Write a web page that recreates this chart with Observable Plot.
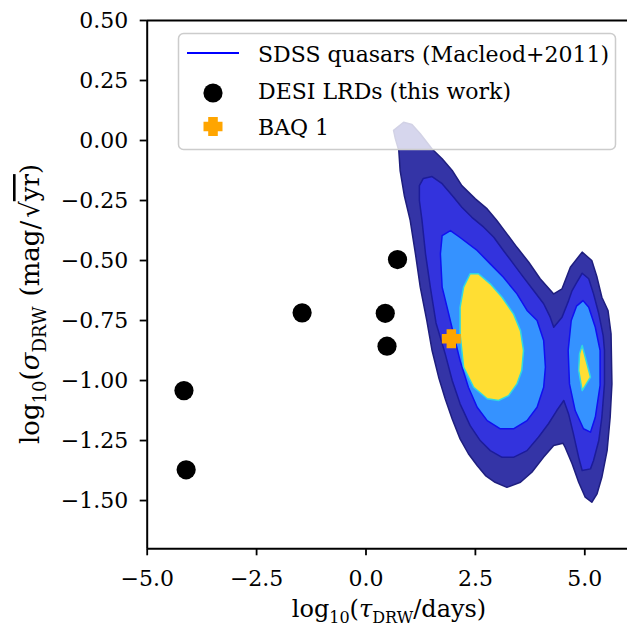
<!DOCTYPE html>
<html><head><meta charset="utf-8">
<script src="https://cdn.jsdelivr.net/npm/d3@7"></script>
<script src="https://cdn.jsdelivr.net/npm/@observablehq/plot@0.6"></script>
<style>
html,body{margin:0;padding:0;background:#fff;overflow:hidden}
</style>
</head><body><div id="chart"></div>
<script>
// DESI LRDs (this work)
const lrdTau   = [-4.16, -4.11, -1.46, 0.44, 0.48, 0.72];
const lrdSigma = [-1.042, -1.372, -0.718, -0.72, -0.857, -0.496];
// BAQ 1
const baqTau   = [1.95];
const baqSigma = [-0.826];
// tick labels
const xTicks = [-5, -2.5, 0, 2.5, 5];
const yTicks = [0.5, 0.25, 0, -0.25, -0.5, -0.75, -1, -1.25, -1.5];

// SDSS quasar density contours (Macleod+2011), outlines as [tau, sigma]
const level1 = [[0.63,0.042],[0.86,0.076],[1.05,0.067],[1.24,0.028],[1.51,-0.035],[1.74,-0.076],[1.97,-0.125],[2.19,-0.188],[2.50,-0.243],[2.77,-0.285],[2.99,-0.333],[3.22,-0.389],[3.45,-0.445],[3.72,-0.507],[3.98,-0.576],[4.29,-0.639],[4.48,-0.618],[4.67,-0.528],[4.94,-0.465],[5.16,-0.50],[5.28,-0.57],[5.39,-0.653],[5.53,-0.708],[5.60,-0.805],[5.62,-1.014],[5.58,-1.153],[5.51,-1.292],[5.39,-1.403],[5.28,-1.472],[5.16,-1.507],[5.01,-1.486],[4.86,-1.424],[4.71,-1.347],[4.55,-1.278],[4.50,-1.261],[4.29,-1.271],[4.06,-1.319],[3.79,-1.382],[3.53,-1.424],[3.22,-1.445],[2.95,-1.424],[2.73,-1.396],[2.54,-1.354],[2.34,-1.305],[2.15,-1.243],[1.97,-1.16],[1.81,-1.076],[1.66,-0.986],[1.51,-0.875],[1.39,-0.75],[1.24,-0.611],[1.13,-0.472],[1.01,-0.333],[0.875,-0.229],[0.78,-0.125],[0.75,-0.042],[0.67,0.008]];
const level2 = [[1.22,-0.188],[1.31,-0.158],[1.51,-0.15],[1.74,-0.18],[1.97,-0.229],[2.19,-0.278],[2.42,-0.32],[2.69,-0.361],[2.92,-0.403],[3.14,-0.458],[3.37,-0.514],[3.60,-0.57],[3.83,-0.625],[4.06,-0.68],[4.21,-0.736],[4.29,-0.778],[4.48,-0.736],[4.63,-0.667],[4.71,-0.625],[4.82,-0.59],[4.94,-0.553],[5.09,-0.576],[5.20,-0.639],[5.32,-0.722],[5.42,-0.8125],[5.45,-0.875],[5.45,-1.014],[5.39,-1.153],[5.32,-1.25],[5.20,-1.333],[5.13,-1.368],[4.94,-1.375],[4.86,-1.32],[4.74,-1.222],[4.63,-1.139],[4.52,-1.083],[4.36,-1.125],[4.17,-1.18],[3.94,-1.236],[3.68,-1.292],[3.37,-1.32],[3.11,-1.32],[2.84,-1.292],[2.61,-1.25],[2.38,-1.188],[2.15,-1.097],[1.97,-1.0],[1.81,-0.889],[1.60,-0.76],[1.47,-0.611],[1.36,-0.472],[1.28,-0.333],[1.22,-0.25]];
const level3Main = [[1.74,-0.396],[1.93,-0.375],[2.15,-0.404],[2.54,-0.458],[2.84,-0.514],[3.14,-0.57],[3.45,-0.639],[3.68,-0.708],[3.91,-0.75],[4.06,-0.833],[4.10,-0.944],[4.06,-1.028],[3.91,-1.111],[3.68,-1.167],[3.37,-1.201],[3.07,-1.201],[2.77,-1.167],[2.54,-1.111],[2.34,-1.028],[2.15,-0.917],[2.00,-0.806],[1.89,-0.722],[1.74,-0.611],[1.70,-0.472]];
const level3Right = [[4.96,-0.667],[5.09,-0.695],[5.24,-0.778],[5.35,-0.875],[5.35,-1.02],[5.24,-1.153],[5.13,-1.215],[4.97,-1.201],[4.78,-1.125],[4.65,-1.014],[4.62,-0.875],[4.69,-0.75],[4.81,-0.69]];
const level4Main = [[2.38,-0.555],[2.57,-0.555],[2.84,-0.597],[3.11,-0.653],[3.37,-0.722],[3.53,-0.792],[3.60,-0.875],[3.56,-0.958],[3.45,-1.014],[3.26,-1.063],[3.03,-1.083],[2.77,-1.076],[2.46,-1.028],[2.23,-0.944],[2.15,-0.806],[2.15,-0.695],[2.23,-0.611]];
const level4Right = [[4.94,-0.854],[5.05,-0.93],[5.13,-0.986],[4.94,-1.042],[4.86,-0.958],[4.88,-0.889]];

const rows = (arr, id) => arr.map(([x, y]) => ({x, y, id}));
const lrd = lrdTau.map((t, i) => ({x: t, y: lrdSigma[i]}));
const baq = baqTau.map((t, i) => ({x: t, y: baqSigma[i]}));
const minus = s => s.replace("-", "\u2212");

const filledPlus = {
  draw(ctx, size) {
    const r = Math.sqrt(size / Math.PI), t = r * 0.5;
    ctx.moveTo(-t, -r); ctx.lineTo(t, -r); ctx.lineTo(t, -t); ctx.lineTo(r, -t);
    ctx.lineTo(r, t); ctx.lineTo(t, t); ctx.lineTo(t, r); ctx.lineTo(-t, r);
    ctx.lineTo(-t, t); ctx.lineTo(-r, t); ctx.lineTo(-r, -t); ctx.lineTo(-t, -t);
    ctx.closePath();
  }
};

const FONT = "DejaVu Serif";
const chart = Plot.plot({
  width: 627, height: 632,
  marginLeft: 146.7, marginRight: 0, marginTop: 20, marginBottom: 83.7,
  style: {fontFamily: FONT, fontSize: "22px", background: "white", color: "black"},
  x: {domain: [-5, 5.976]},
  y: {domain: [-1.701, 0.5]},
  marks: [
    Plot.line(rows(level1, "a"), {x: "x", y: "y", z: "id", curve: "linear-closed", fill: "#3434a6", stroke: "#1e1e7e", strokeWidth: 1.5}),
    Plot.line(rows(level2, "a"), {x: "x", y: "y", z: "id", curve: "linear-closed", fill: "#3333dd", stroke: "#1c1c9a", strokeWidth: 1.5}),
    Plot.line([...rows(level3Main, "m"), ...rows(level3Right, "r")], {x: "x", y: "y", z: "id", curve: "linear-closed", fill: "#3592ff", stroke: "#1010f0", strokeWidth: 1.5}),
    Plot.line([...rows(level4Main, "m"), ...rows(level4Right, "r")], {x: "x", y: "y", z: "id", curve: "linear-closed", fill: "#ffde33", stroke: "#30d8e0", strokeWidth: 1.5}),
    Plot.dot(lrd, {x: "x", y: "y", r: 9.6, fill: "black", stroke: "none"}),
    Plot.dot(baq, {x: "x", y: "y", r: 9.5, symbol: filledPlus, fill: "#ffa500", stroke: "none"}),
    Plot.ruleX([-5], {strokeWidth: 2}),
    Plot.ruleY([-1.701, 0.5], {strokeWidth: 2}),
    Plot.axisX(xTicks, {tickSize: 7, tickPadding: 15, strokeWidth: 1.8, tickFormat: d => minus(d.toFixed(1)), label: null}),
    Plot.axisY(yTicks, {tickSize: 7, tickPadding: 12, strokeWidth: 1.8, tickFormat: d => minus(d.toFixed(2)), label: null})
  ]
});
document.getElementById("chart").appendChild(chart);

const svg = d3.select(chart);
// legend
const lg = svg.append("g").attr("font-family", FONT).attr("font-size", 22).attr("fill", "black").attr("text-anchor", "start");
lg.append("rect").attr("x", 178.5).attr("y", 33.5).attr("width", 437).attr("height", 116)
  .attr("rx", 5).attr("fill", "white").attr("fill-opacity", 0.8).attr("stroke", "#cccccc").attr("stroke-width", 1.5);
lg.append("line").attr("x1", 187).attr("x2", 239).attr("y1", 53).attr("y2", 53).attr("stroke", "#0000ff").attr("stroke-width", 2);
lg.append("circle").attr("cx", 213).attr("cy", 93).attr("r", 9.6).attr("fill", "black");
lg.append("path").attr("transform", "translate(213,126.5)").attr("fill", "#ffa500")
  .attr("d", "M-4.8,-9.5H4.8V-4.8H9.5V4.8H4.8V9.5H-4.8V4.8H-9.5V-4.8H-4.8Z");
lg.append("text").attr("x", 258).attr("y", 61.5).attr("text-anchor", "start").text("SDSS quasars (Macleod+2011)");
lg.append("text").attr("x", 258).attr("y", 98.5).attr("text-anchor", "start").text("DESI LRDs (this work)");
lg.append("text").attr("x", 258).attr("y", 135).attr("text-anchor", "start").text("BAQ 1");

// axis labels with subscripts
const xl = svg.append("text").attr("font-family", FONT).attr("font-size", 24).attr("text-anchor", "middle")
  .attr("x", 389).attr("y", 617);
xl.append("tspan").text("log");
xl.append("tspan").attr("dy", 6).attr("font-size", 16).text("10");
xl.append("tspan").attr("dy", -6).text("(");
xl.append("tspan").attr("font-style", "italic").text("τ");
xl.append("tspan").attr("dy", 6).attr("font-size", 16).text("DRW");
xl.append("tspan").attr("dy", -6).text("/days)");

const yl = svg.append("text").attr("font-family", FONT).attr("font-size", 26).attr("text-anchor", "middle")
  .attr("transform", "translate(39,304) rotate(-90)");
yl.append("tspan").text("log");
yl.append("tspan").attr("dy", 7).attr("font-size", 18).text("10");
yl.append("tspan").attr("dy", -7).text("(");
yl.append("tspan").attr("font-style", "italic").text("σ");
yl.append("tspan").attr("dy", 7).attr("font-size", 18).text("DRW");
yl.append("tspan").attr("dy", -7).attr("dx", 10).text("(mag/");
yl.append("tspan").attr("dx", 3).text("√");
yl.append("tspan").attr("text-decoration", "overline").text("yr");
yl.append("tspan").text(")");
</script>
</body></html>
